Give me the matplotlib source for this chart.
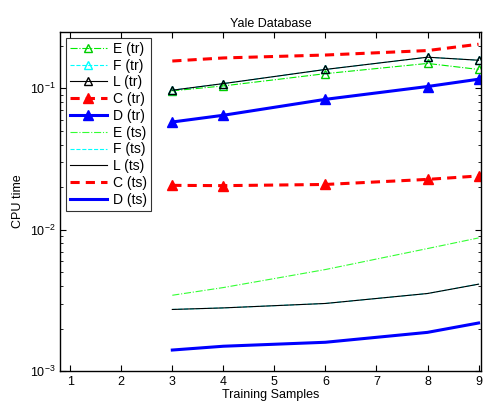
import matplotlib
matplotlib.use("Agg")
import matplotlib.pyplot as plt

plt.rcParams['font.family'] = ['Liberation Sans', 'DejaVu Sans']

x = [3, 4, 6, 8, 9]
E_tr = [0.096, 0.104, 0.127, 0.150, 0.136]
F_tr = [0.097, 0.108, 0.136, 0.166, 0.158]
L_tr = [0.097, 0.108, 0.136, 0.166, 0.158]
C_tr = [0.0206, 0.0205, 0.0209, 0.0227, 0.0240]
D_tr = [0.0578, 0.0645, 0.0836, 0.103, 0.116]
E_ts = [0.00344, 0.0039, 0.00523, 0.00736, 0.00875]
F_ts = [0.00273, 0.0028, 0.00301, 0.00354, 0.00412]
L_ts = [0.00273, 0.0028, 0.00301, 0.00354, 0.00412]
C_ts = [0.156, 0.164, 0.172, 0.185, 0.205]
D_ts = [0.00141, 0.0015, 0.0016, 0.00188, 0.00219]

fig = plt.figure(figsize=(4.84, 4.11), dpi=100)
ax = fig.add_axes([0.124, 0.097, 0.870, 0.825])

ax.plot(x, E_tr, color='#00ee00', ls='-.', lw=0.8, marker='^', mfc='none', mec='#00cc00', ms=5.5, label='E (tr)')
ax.plot(x, F_tr, color='cyan', ls='--', lw=0.8, marker='^', mfc='none', mec='cyan', ms=5.5, label='F (tr)')
ax.plot(x, L_tr, color='black', ls='-', lw=0.8, marker='^', mfc='none', mec='black', ms=5.5, label='L (tr)')
ax.plot(x, C_tr, color='red', ls='--', lw=2.2, dashes=(3, 2), marker='^', mfc='red', mec='red', ms=7, label='C (tr)')
ax.plot(x, D_tr, color='blue', ls='-', lw=2.2, marker='^', mfc='blue', mec='blue', ms=7, label='D (tr)')
ax.plot(x, E_ts, color='#33ff33', ls='-.', lw=0.8, label='E (ts)')
ax.plot(x, F_ts, color='cyan', ls='--', lw=0.8, label='F (ts)')
ax.plot(x, L_ts, color='black', ls='-', lw=0.8, label='L (ts)')
ax.plot(x, C_ts, color='red', ls='--', lw=2.2, dashes=(3, 2), label='C (ts)')
ax.plot(x, D_ts, color='blue', ls='-', lw=2.2, label='D (ts)')

ax.set_yscale('log')
ax.set_xlim(0.8, 9.05)
ax.set_ylim(1e-3, 0.25)
ax.set_xticks([1, 2, 3, 4, 5, 6, 7, 8, 9])
ax.tick_params(which='both', direction='in', top=True, right=True, labelsize=9)
ax.tick_params(which='major', length=4)
ax.tick_params(which='minor', length=2)
ax.minorticks_on()
ax.xaxis.set_minor_locator(matplotlib.ticker.NullLocator())
for s in ax.spines.values():
    s.set_linewidth(1.0)

ax.set_title('Yale Database', fontsize=9, pad=4)
ax.set_xlabel('Training Samples', fontsize=9, labelpad=1)
ax.set_ylabel('CPU time', fontsize=9)

leg = ax.legend(loc='upper left', fontsize=10, handlelength=2.7, frameon=True, fancybox=False,
                edgecolor='black', borderpad=0.3, labelspacing=0.2, handletextpad=0.4,
                bbox_to_anchor=(0.0, 1.0), borderaxespad=0.4)
leg.get_frame().set_linewidth(0.8)

fig.savefig('out.png', dpi=100)
